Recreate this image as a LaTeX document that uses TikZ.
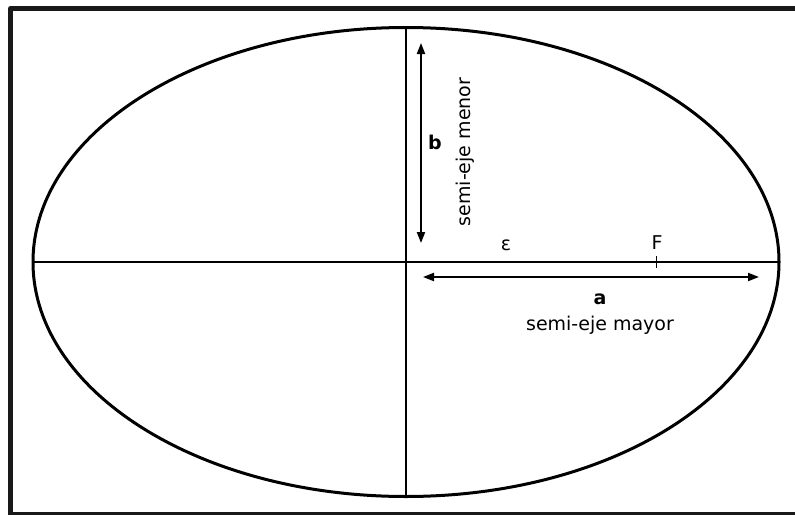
\documentclass[tikz,border=0pt]{standalone}
\usepackage{fontspec}
\setmainfont{DejaVu Sans}
\usetikzlibrary{arrows.meta}
\tikzset{
  every picture/.style={
    line join=round,
    >={Triangle[length=11pt,width=8pt]},
  },
  axisline/.style={line width=2pt},
  semiaxis/.style={<->,line width=2pt},
  lbl/.style={inner sep=0pt,font=\fontsize{19}{23}\selectfont},
}
\begin{document}
\begin{tikzpicture}[x=1pt,y=-1pt]
\useasboundingbox(0,0)rectangle(795,514);
\clip(0,0)rectangle(795,514);
% frame runs off the right and bottom edges
\draw[line width=5pt,black!90](10.5,8.5)rectangle(805,514.5);
\coordinate(C)at(406,262);
\draw[line width=3pt](C)ellipse[x radius=373,y radius=234.5];
\coordinate(L)at(33,262);
\coordinate(R)at(779,262);
\coordinate(T)at(406,27.5);
\coordinate(B)at(406,496.5);
\draw[axisline](L)--(R);
\draw[axisline](T)--(B);
% semi-axis arrows
\coordinate(bt)at(421,43);
\coordinate(bb)at(421,243);
\coordinate(al)at(423,277);
\coordinate(ar)at(759,277);
\draw[semiaxis](bt)--(bb);
\draw[semiaxis](al)--(ar);
\node[lbl,font=\fontsize{19}{23}\selectfont\bfseries](b)at(435,142){b};
\node[lbl,rotate=90](bname)at(465,152){semi-eje menor};
\node[lbl,font=\fontsize{19}{23}\selectfont\bfseries](a)at(600,299){a};
\node[lbl](aname)at(600,325){semi-eje mayor};
% focus
\coordinate(F)at(656,262);
\draw[line width=1pt]([yshift=-6pt]F)--([yshift=6pt]F);
\node[lbl](Flbl)at(657,243){F};
\node[lbl](eps)at(506,245){ε};
\end{tikzpicture}
\end{document}
